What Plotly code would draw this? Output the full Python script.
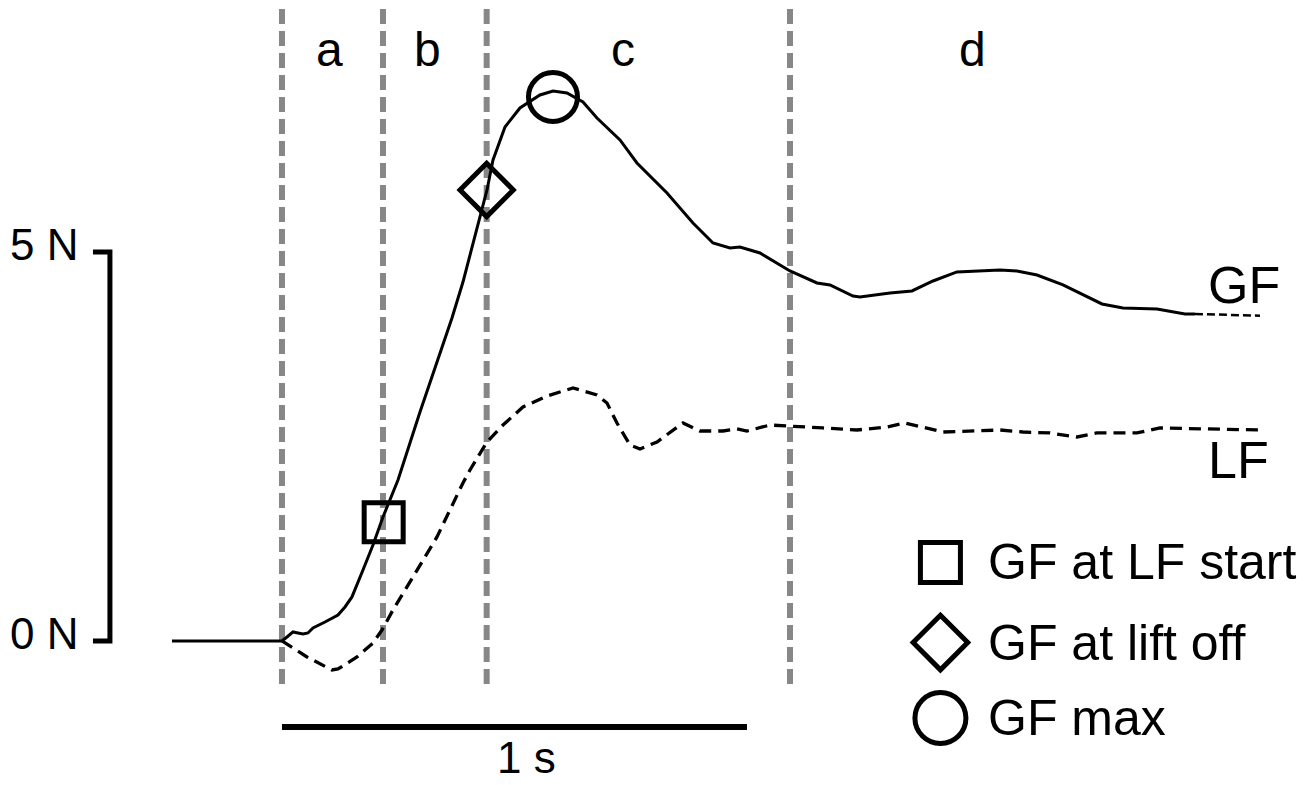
import plotly.graph_objects as go

#%%
# Data (time in s, force in N)

# Grip force (GF), solid part
gf_t = [-0.2366, 0.0, 0.0108, 0.0237, 0.0344, 0.0452, 0.0559, 0.0667, 0.0925, 0.1204,
        0.1355, 0.1505, 0.1742, 0.1957, 0.2172, 0.2495, 0.2968, 0.3398, 0.3656, 0.3892,
        0.4108, 0.4409, 0.4538, 0.4796, 0.5118, 0.5548, 0.5828, 0.6129, 0.6473, 0.6774,
        0.7269, 0.7634, 0.8280, 0.8839, 0.9269, 0.9634, 0.9849, 1.0280, 1.0925, 1.1505,
        1.1785, 1.2280, 1.2430, 1.3075, 1.3548, 1.4000, 1.4516, 1.5441, 1.5806, 1.6237,
        1.6796, 1.7161, 1.7634, 1.8086, 1.8817, 1.9419, 1.9634]
gf_n = [0.0, 0.0, 0.051, 0.116, 0.103, 0.090, 0.103, 0.167, 0.244, 0.334,
        0.437, 0.566, 0.913, 1.234, 1.594, 2.069, 2.943, 3.715, 4.152, 4.614,
        5.116, 5.797, 6.183, 6.607, 6.851, 7.018, 7.069, 7.044, 6.928, 6.722,
        6.440, 6.144, 5.758, 5.373, 5.116, 5.051, 5.064, 4.987, 4.756, 4.602,
        4.576, 4.434, 4.422, 4.473, 4.499, 4.627, 4.743, 4.769, 4.756, 4.704,
        4.576, 4.473, 4.332, 4.280, 4.267, 4.203, 4.203]

# GF dashed tail at the end
gf_tail_t = [1.9634, 2.1032]
gf_tail_n = [4.203, 4.181]

# Load force (LF)
lf_t = [0.0, 0.0538, 0.1075, 0.1204, 0.1613, 0.1957, 0.2151, 0.2387, 0.2817, 0.3333,
        0.3892, 0.4043, 0.4409, 0.4753, 0.5183, 0.5699, 0.6258, 0.6774, 0.6989, 0.7204,
        0.7484, 0.7699, 0.8065, 0.8624, 0.8989, 0.9484, 0.9785, 1.0000, 1.0495, 1.0925,
        1.1634, 1.2366, 1.3011, 1.3398, 1.4215, 1.5441, 1.5935, 1.6516, 1.7097, 1.7527,
        1.8387, 1.8882, 1.9957, 2.1032]
lf_n = [0.0, -0.206, -0.373, -0.360, -0.206, -0.026, 0.141, 0.398, 0.823, 1.337,
        2.031, 2.198, 2.558, 2.776, 3.008, 3.149, 3.252, 3.162, 3.059, 2.802,
        2.519, 2.468, 2.558, 2.802, 2.699, 2.699, 2.725, 2.699, 2.776, 2.764,
        2.738, 2.712, 2.751, 2.802, 2.686, 2.712, 2.686, 2.674, 2.622, 2.674,
        2.674, 2.738, 2.725, 2.712]

# Event markers on GF
event_names = ['GF at LF start', 'GF at lift off', 'GF max']
event_symbols = ['square-open', 'diamond-open', 'circle-open']
event_t = [0.2187, 0.4402, 0.5828]
event_n = [1.526, 5.797, 6.992]

# Phase boundaries and labels
phase_t = [0.0, 0.2172, 0.4402, 1.0925]
phase_labels = ['a', 'b', 'c', 'd']
phase_label_t = [0.103, 0.314, 0.733, 1.484]

# Scale bars
force_bar = [0, 5]
force_bar_labels = ['0 N', '5 N']
time_bar = [0, 1]
time_bar_label = '1 s'

#%%
FONT = 'Liberation Sans, Arial, sans-serif'
# the page body has an 8 px margin, ranges take it into account
X_RANGE = [-0.5892, 2.2323]
Y_RANGE = [-1.954, 8.136]

fig = go.Figure()

# Dashed grey lines between phases
for t in phase_t:
    fig.add_shape(type='line', x0=t, x1=t, y0=-0.553, y1=8.136, xref='x', yref='y',
                  line=dict(color='#878787', width=6, dash='15px,7px'), layer='below')

for lab, t in zip(phase_labels, phase_label_t):
    fig.add_annotation(x=t, y=7.6, text=lab, showarrow=False,
                       font=dict(size=48, color='black', family=FONT))

# Curves
fig.add_trace(go.Scatter(x=lf_t, y=lf_n, mode='lines', name='LF',
                         line=dict(color='black', width=3.3, dash='12px,7px')))
fig.add_trace(go.Scatter(x=gf_t, y=gf_n, mode='lines', name='GF',
                         line=dict(color='black', width=3)))
fig.add_trace(go.Scatter(x=gf_tail_t, y=gf_tail_n, mode='lines', name='GF tail',
                         line=dict(color='black', width=2.5, dash='8px,4px')))

# Event markers
fig.add_trace(go.Scatter(x=event_t, y=event_n, mode='markers', name='events',
                         marker=dict(symbol=event_symbols, size=[39, 41, 49], color='black',
                                     opacity=1, line=dict(color='black', width=5))))

# Curve labels
fig.add_annotation(x=2.069, y=4.576, text='GF', showarrow=False,
                   font=dict(size=52, color='black', family=FONT))
fig.add_annotation(x=2.058, y=2.326, text='LF', showarrow=False,
                   font=dict(size=52, color='black', family=FONT))

# Legend drawn by hand
leg_t = 1.416
leg_n = [1.01, -0.02, -0.99]
fig.add_trace(go.Scatter(x=[leg_t] * 3, y=leg_n, mode='markers', name='legend',
                         marker=dict(symbol=event_symbols, size=[40, 42, 51], color='black',
                                     opacity=1, line=dict(color='black', width=5))))
for name, n in zip(event_names, leg_n):
    fig.add_annotation(x=1.515, y=n, text=name, showarrow=False, xanchor='left',
                       font=dict(size=50, color='black', family=FONT))

# Force scale bar
fig.add_trace(go.Scatter(x=[-0.4065, -0.370, -0.370, -0.4065],
                         y=[force_bar[1], force_bar[1], force_bar[0], force_bar[0]],
                         mode='lines', line=dict(color='black', width=5)))
for lab, n in zip(force_bar_labels, force_bar):
    fig.add_annotation(x=-0.434, y=n, text=lab, showarrow=False, xanchor='right',
                       yshift=7, font=dict(size=44, color='black', family=FONT))

# Time scale bar
fig.add_trace(go.Scatter(x=time_bar, y=[-1.105, -1.105], mode='lines',
                         line=dict(color='black', width=6)))
fig.add_annotation(x=0.525, y=-1.50, text=time_bar_label, showarrow=False,
                   font=dict(size=44, color='black', family=FONT))

fig.update_xaxes(range=X_RANGE, visible=False, showgrid=False, zeroline=False)
fig.update_yaxes(range=Y_RANGE, visible=False, showgrid=False, zeroline=False)
fig.update_layout(width=1312, height=785, margin=dict(l=0, r=0, t=0, b=0),
                  plot_bgcolor='white', paper_bgcolor='white',
                  showlegend=False, hovermode=False)

fig.write_html('out.html')
